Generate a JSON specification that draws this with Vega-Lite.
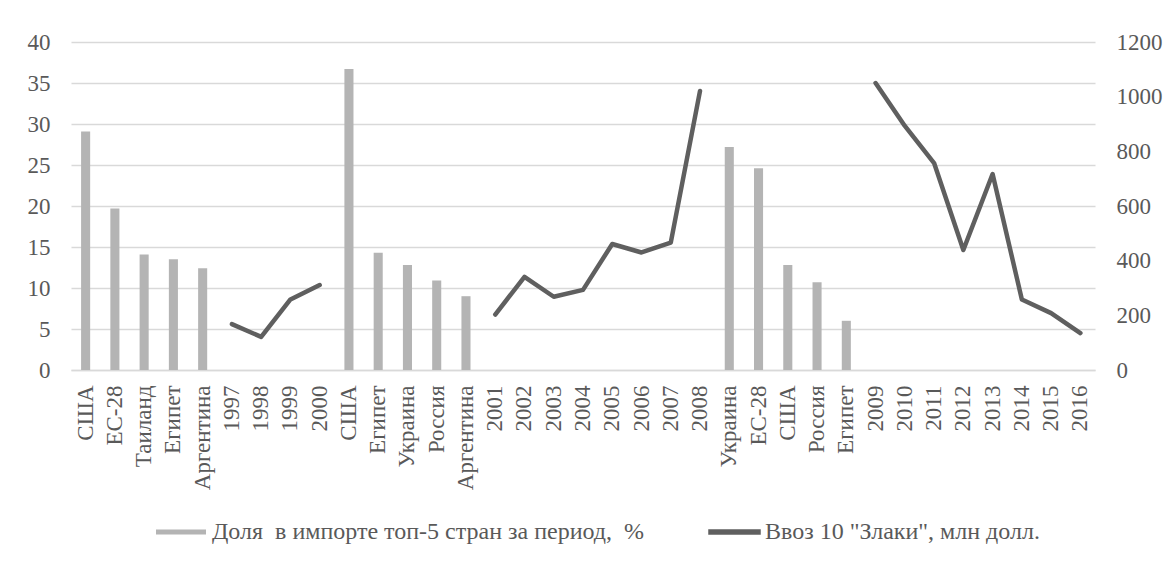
{
  "$schema": "https://vega.github.io/schema/vega-lite/v6.json",
  "width": 1024,
  "height": 328,
  "autosize": {"type": "none"},
  "padding": {"left": 71, "top": 42, "right": 75, "bottom": 193},
  "background": "white",
  "config": {
    "view": {"stroke": null},
    "font": "Liberation Serif",
    "axis": {"labelFont": "Liberation Serif", "labelColor": "#595959", "labelFontSize": 23, "title": null},
    "legend": {"labelFont": "Liberation Serif", "labelFontSize": 24, "labelColor": "#595959", "labelLimit": 0}
  },
  "data": {
    "values": [
      {"k": "США#1", "share": 29.1},
      {"k": "ЕС-28#1", "share": 19.7},
      {"k": "Таиланд", "share": 14.1},
      {"k": "Египет#1", "share": 13.5},
      {"k": "Аргентина#1", "share": 12.4},
      {"k": "1997", "imp": 168, "p": "1"},
      {"k": "1998", "imp": 121, "p": "1"},
      {"k": "1999", "imp": 258, "p": "1"},
      {"k": "2000", "imp": 311, "p": "1"},
      {"k": "США#2", "share": 36.7},
      {"k": "Египет#2", "share": 14.3},
      {"k": "Украина#2", "share": 12.8},
      {"k": "Россия#2", "share": 10.9},
      {"k": "Аргентина#2", "share": 9.0},
      {"k": "2001", "imp": 203, "p": "2"},
      {"k": "2002", "imp": 341, "p": "2"},
      {"k": "2003", "imp": 268, "p": "2"},
      {"k": "2004", "imp": 293, "p": "2"},
      {"k": "2005", "imp": 461, "p": "2"},
      {"k": "2006", "imp": 430, "p": "2"},
      {"k": "2007", "imp": 466, "p": "2"},
      {"k": "2008", "imp": 1021, "p": "2"},
      {"k": "Украина#3", "share": 27.2},
      {"k": "ЕС-28#3", "share": 24.6},
      {"k": "США#3", "share": 12.8},
      {"k": "Россия#3", "share": 10.7},
      {"k": "Египет#3", "share": 6.0},
      {"k": "2009", "imp": 1050, "p": "3"},
      {"k": "2010", "imp": 893, "p": "3"},
      {"k": "2011", "imp": 757, "p": "3"},
      {"k": "2012", "imp": 439, "p": "3"},
      {"k": "2013", "imp": 717, "p": "3"},
      {"k": "2014", "imp": 258, "p": "3"},
      {"k": "2015", "imp": 208, "p": "3"},
      {"k": "2016", "imp": 135, "p": "3"}
    ]
  },
  "layer": [
    {
      "transform": [{"filter": "datum.share != null"}],
      "mark": {"type": "bar", "color": "#b4b4b4"},
      "encoding": {
        "x": {
          "field": "k", "type": "nominal",
          "scale": {
            "domain": ["США#1","ЕС-28#1","Таиланд","Египет#1","Аргентина#1","1997","1998","1999","2000","США#2","Египет#2","Украина#2","Россия#2","Аргентина#2","2001","2002","2003","2004","2005","2006","2007","2008","Украина#3","ЕС-28#3","США#3","Россия#3","Египет#3","2009","2010","2011","2012","2013","2014","2015","2016"],
            "paddingInner": 0.69, "paddingOuter": 0.345
          },
          "axis": {"labelAngle": -90, "labelExpr": "split(datum.value, '#')[0]", "labelFont": "Liberation Serif", "ticks": false, "domainColor": "#d9d9d9", "domainWidth": 1.3, "labelPadding": 15, "grid": false}
        },
        "y": {
          "field": "share", "type": "quantitative",
          "scale": {"domain": [0, 40]},
          "axis": {"values": [0,5,10,15,20,25,30,35,40], "labelFont": "Liberation Serif", "domain": false, "ticks": false, "labelPadding": 21, "grid": true, "gridColor": "#d9d9d9", "gridWidth": 1.3}
        },
        "color": {
          "datum": "Доля\u00a0 в импорте топ-5 стран за период,\u00a0 %",
          "scale": {"domain": ["Доля\u00a0 в импорте топ-5 стран за период,\u00a0 %", "Ввоз 10 \"Злаки\", млн долл."], "range": ["#b4b4b4", "#5f5f5f"]},
          "legend": {
            "orient": "none", "legendX": 85, "legendY": 465, "direction": "horizontal", "title": null,
            "labelFont": "Liberation Serif", "labelFontSize": 24, "labelColor": "#595959", "labelLimit": 0,
            "symbolSize": 2500, "symbolStrokeWidth": 0, "columnPadding": 63, "labelOffset": 6,
            "encode": {
              "symbols": {"update": {
                "shape": {"signal": "datum.index == 0 ? 'M-1,-0.1H1V0.1H-1Z' : 'M-1.03,-0.11H1.07V0.11H-1.03Z'"},
                "fill": {"scale": "color", "field": "value"},
                "stroke": {"value": "transparent"}
              }},
              "labels": {"update": {"font": {"value": "Liberation Serif"}}}
            }
          }
        }
      }
    },
    {
      "transform": [{"filter": "datum.imp != null"}],
      "mark": {"type": "line", "strokeWidth": 4.5, "strokeCap": "round", "strokeJoin": "round"},
      "encoding": {
        "x": {
          "field": "k", "type": "nominal", "bandPosition": 0.5,
          "scale": {
            "domain": ["США#1","ЕС-28#1","Таиланд","Египет#1","Аргентина#1","1997","1998","1999","2000","США#2","Египет#2","Украина#2","Россия#2","Аргентина#2","2001","2002","2003","2004","2005","2006","2007","2008","Украина#3","ЕС-28#3","США#3","Россия#3","Египет#3","2009","2010","2011","2012","2013","2014","2015","2016"],
            "paddingInner": 0.69, "paddingOuter": 0.345
          },
          "axis": {"labelAngle": -90, "labelExpr": "split(datum.value, '#')[0]", "labelFont": "Liberation Serif", "ticks": false, "domainColor": "#d9d9d9", "domainWidth": 1.3, "labelPadding": 15, "grid": false}
        },
        "y": {
          "field": "imp", "type": "quantitative",
          "scale": {"domain": [0, 1200]},
          "axis": {"orient": "right", "format": "d", "labelFont": "Liberation Serif", "values": [0,200,400,600,800,1000,1200], "domain": false, "ticks": false, "labelPadding": 21, "grid": false}
        },
        "color": {"datum": "Ввоз 10 \"Злаки\", млн долл."},
        "detail": {"field": "p"}
      }
    }
  ],
  "resolve": {"scale": {"y": "independent"}}
}
